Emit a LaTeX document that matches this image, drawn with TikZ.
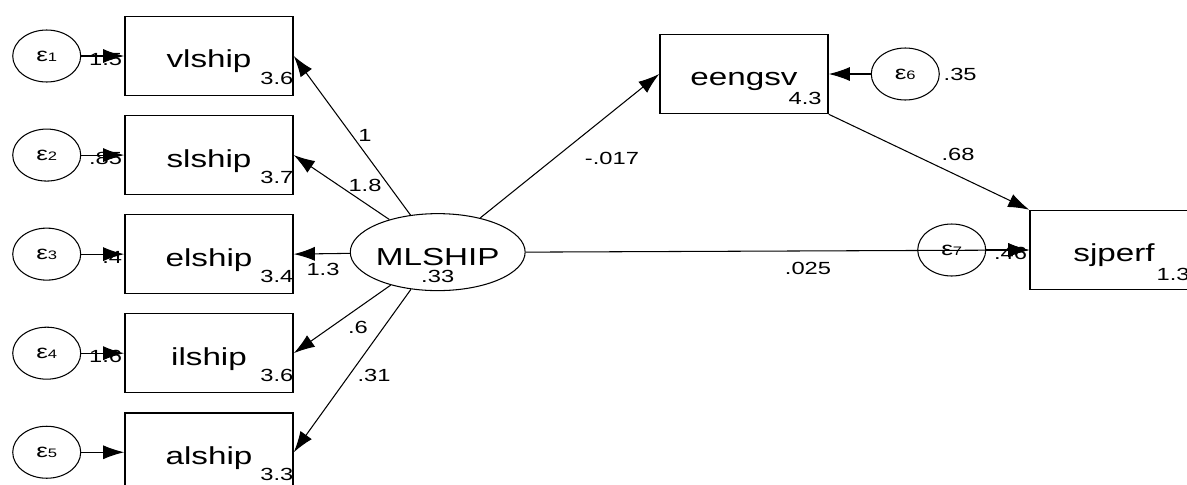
\documentclass[tikz,border=0pt]{standalone}
\usepackage{fontspec}
\setmainfont[FakeStretch=1.35]{Liberation Sans}
\usetikzlibrary{positioning,shapes.geometric,arrows.meta}

\newcommand{\errlab}[1]{{\fontsize{11}{11}\selectfont ε}{\fontsize{7}{7}\selectfont #1}}

\tikzset{
	obsbox/.style={draw, line width=0.9pt, minimum width=3.36cm, minimum height=1.58cm,
		font=\fontsize{14}{14}\selectfont, text height=14pt, text depth=0.4pt},
	latent/.style={draw, ellipse, line width=0.6pt, minimum width=3.4cm, minimum height=1.54cm, inner sep=0pt,
		font=\fontsize{14}{14}\selectfont, text height=15.2pt, text depth=0.4pt},
	errnode/.style={draw, ellipse, line width=0.6pt, minimum width=1.36cm, minimum height=1.04cm, inner sep=0pt},
	semarrow/.style={-{Latex[length=12pt,width=8pt]}, line width=0.6pt},
	coef/.style={font=\fontsize{10}{10}\selectfont, inner sep=1pt},
}

\begin{document}
\begin{tikzpicture}[x=0.02cm, y=-0.02cm]
    \useasboundingbox (0,0) rectangle (1187,484);

    \node [obsbox] (vl) at (209,56) {vlship};
    \node [obsbox, below=0.37cm of vl] (sl) {slship};
    \node [obsbox, below=0.37cm of sl] (el) {elship};
    \node [obsbox, below=0.37cm of el] (il) {ilship};
    \node [obsbox, below=0.37cm of il] (al) {alship};

    \node [errnode, left=0.86cm of vl] (e1) {\errlab{1}};
    \node [errnode, left=0.86cm of sl] (e2) {\errlab{2}};
    \node [errnode, left=0.86cm of el] (e3) {\errlab{3}};
    \node [errnode, left=0.86cm of il] (e4) {\errlab{4}};
    \node [errnode, left=0.86cm of al] (e5) {\errlab{5}};

    \node [latent, right=1.12cm of el, yshift=0.04cm] (ml) {MLSHIP};
    \node [obsbox] (eng) at (744,74) {eengsv};
    \node [obsbox] (sj) at (1114,250) {sjperf};
    \node [errnode, right=0.84cm of eng] (e6) {\errlab{6}};
    \node [errnode, left=0.86cm of sj] (e7) {\errlab{7}};

    \node [coef, anchor=base east, xshift=1pt, yshift=0.24cm] (vlc) at (vl.south east) {3.6};
    \node [coef, anchor=base east, xshift=1pt, yshift=0.24cm] (slc) at (sl.south east) {3.7};
    \node [coef, anchor=base east, xshift=1pt, yshift=0.24cm] (elc) at (el.south east) {3.4};
    \node [coef, anchor=base east, xshift=1pt, yshift=0.24cm] (ilc) at (il.south east) {3.6};
    \node [coef, anchor=base east, xshift=1pt, yshift=0.24cm] (alc) at (al.south east) {3.3};
    \node [coef, anchor=base east, xshift=-0.1cm, yshift=0.2cm] (engc) at (eng.south east) {4.3};
    \node [coef, anchor=base east, xshift=-0.14cm, yshift=0.2cm] (sjc) at (sj.south east) {1.3};
    \node [coef, anchor=base, yshift=-0.61cm] (mlc) at (ml.center) {.33};

    \node [coef, anchor=base east, yshift=-0.18cm] (v1) at (vl.west) {1.5};
    \node [coef, anchor=base east, yshift=-0.18cm] (v2) at (sl.west) {.85};
    \node [coef, anchor=base east, yshift=-0.18cm] (v3) at (el.west) {.4};
    \node [coef, anchor=base east, yshift=-0.18cm] (v4) at (il.west) {1.6};
    \node [coef, anchor=base east, yshift=-0.18cm] (v7) at (sj.west) {.46};
    \node [coef, anchor=west, xshift=1pt] (v6) at (e6.east) {.35};

    \node [coef] (l1) at (365,135) {1};
    \node [coef] (l2) at (365,185) {1.8};
    \node [coef] (l3) at (323,269) {1.3};
    \node [coef] (l4) at (358,327) {.6};
    \node [coef] (l5) at (374,375) {.31};
    \node [coef] (l6) at (612,158) {-.017};
    \node [coef] (l7) at (958,154) {.68};
    \node [coef] (l8) at (808,268) {.025};

    \draw [semarrow] (ml) -- (vl.east);
    \draw [semarrow] (ml) -- (sl.east);
    \draw [semarrow] (ml) -- (el.east);
    \draw [semarrow] (ml) -- (il.east);
    \draw [semarrow] (ml) -- (al.east);
    \draw [semarrow] (ml) -- (eng.west);
    \draw [semarrow] (ml.east) -- (sj.west);
    \draw [semarrow] (eng.south east) -- (sj.north west);

    \draw [semarrow] (e1) -- (vl);
    \draw [semarrow] (e2) -- (sl);
    \draw [semarrow] (e3) -- (el);
    \draw [semarrow] (e4) -- (il);
    \draw [semarrow] (e5) -- (al);
    \draw [semarrow] (e6) -- (eng);
    \draw [semarrow] (e7) -- (sj);
\end{tikzpicture}
\end{document}
